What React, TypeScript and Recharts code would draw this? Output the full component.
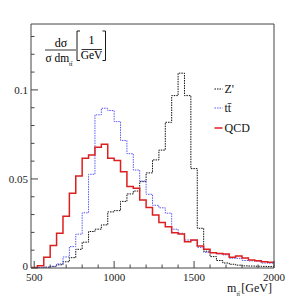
import React from "react";
import { ComposedChart, Line, XAxis, YAxis } from "recharts";

// Histogram bin lower edges in GeV (40 GeV bins), last entry closes the final bin
const BIN_EDGES = [
  480, 520, 560, 600, 640, 680, 720, 760, 800, 840, 880, 920, 960, 1000, 1040,
  1080, 1120, 1160, 1200, 1240, 1280, 1320, 1360, 1400, 1440, 1480, 1520, 1560,
  1600, 1640, 1680, 1720, 1760, 1800, 1840, 1880, 1920, 1960, 2000,
];

// Normalised dσ/dm per bin
const ZPRIME = [
  0.0001, 0.0002, 0.0004, 0.0008, 0.0018, 0.0035, 0.0058, 0.0105, 0.0145,
  0.0205, 0.0218, 0.0242, 0.0315, 0.0322, 0.0374, 0.0416, 0.0432, 0.0485,
  0.0534, 0.0607, 0.0662, 0.0818, 0.0968, 0.1094, 0.0968, 0.0558, 0.0223,
  0.0094, 0.0064, 0.0042, 0.0028, 0.0021, 0.0016, 0.0012, 0.0011, 0.001,
  0.0009, 0.0008,
];
const TTBAR = [
  0.0002, 0.0003, 0.0005, 0.001, 0.0023, 0.0062, 0.012, 0.019, 0.031, 0.0526,
  0.086, 0.0897, 0.0884, 0.0822, 0.0716, 0.0642, 0.055, 0.0488, 0.0414,
  0.0352, 0.0338, 0.0308, 0.0218, 0.0195, 0.0157, 0.0156, 0.0116, 0.0088,
  0.0087, 0.008, 0.0074, 0.0055, 0.0054, 0.0042, 0.004, 0.0038, 0.0028,
  0.0027,
];
const QCD = [
  0.0003, 0.0012, 0.006, 0.0127, 0.0195, 0.029, 0.042, 0.0517, 0.0616, 0.0635,
  0.0678, 0.0695, 0.0616, 0.0603, 0.054, 0.0457, 0.0448, 0.0382, 0.0339,
  0.0298, 0.0256, 0.0232, 0.0198, 0.0191, 0.0148, 0.0157, 0.0124, 0.0105,
  0.0086, 0.0082, 0.0079, 0.006, 0.0067, 0.0056, 0.0045, 0.0041, 0.0035,
  0.0032,
];

// Axis ticks (minor + major) and which of them get a label
const X_TICKS = [
  500, 600, 700, 800, 900, 1000, 1100, 1200, 1300, 1400, 1500, 1600, 1700,
  1800, 1900, 2000,
];
const X_MAJOR = [500, 1000, 1500, 2000];
const Y_TICKS = [
  0, 0.01, 0.02, 0.03, 0.04, 0.05, 0.06, 0.07, 0.08, 0.09, 0.1, 0.11, 0.12,
  0.13,
];
const Y_MAJOR = [0, 0.05, 0.1];

const FONT = "Liberation Serif, Times New Roman, DejaVu Serif, serif";
const FRAME = "#444";

const SERIES = [
  { key: "zprime", values: ZPRIME, color: "#111", dash: "1.5 1", width: 1 },
  { key: "ttbar", values: TTBAR, color: "#5a5af2", dash: "1.5 1", width: 1 },
  { key: "qcd", values: QCD, color: "#dc1f1f", dash: undefined, width: 1.5 },
];

// one row per bin edge; the closing edge repeats the last bin so stepAfter ends at 2000
const data = BIN_EDGES.map((m, i) => {
  const j = Math.min(i, ZPRIME.length - 1);
  return { m, zprime: ZPRIME[j], ttbar: TTBAR[j], qcd: QCD[j] };
});

const isMajor = (list: number[], v: number) =>
  list.some((t) => Math.abs(t - v) < 1e-9);

const labelStyle = { fontFamily: FONT, fontSize: 11, fill: "#222" };

function XTick(props: any) {
  const { x, y, payload } = props;
  const major = isMajor(X_MAJOR, payload.value);
  return (
    <g>
      <line x1={x} x2={x} y1={y} y2={y - (major ? 7 : 3.5)} stroke={FRAME} />
      {major && (
        <text x={x} y={y + 12.5} textAnchor="middle" style={labelStyle}>
          {payload.value}
        </text>
      )}
    </g>
  );
}

function YTick(props: any) {
  const { x, y, payload } = props;
  const major = isMajor(Y_MAJOR, payload.value);
  // the zero label sits a little higher so it clears the "500" below it
  const dy = payload.value === 0 ? 2 : 4;
  return (
    <g>
      <line x1={x} x2={x + (major ? 7 : 3.5)} y1={y} y2={y} stroke={FRAME} />
      {major && (
        <text x={x - 3} y={y + dy} textAnchor="end" style={labelStyle}>
          {String(payload.value)}
        </text>
      )}
    </g>
  );
}

const LEGEND = [
  { label: "Z'", series: SERIES[0], y: 89 },
  { label: "tt\u0304", series: SERIES[1], y: 108 },
  { label: "QCD", series: SERIES[2], y: 128 },
];

export default function App() {
  return (
    <div
      style={{
        position: "absolute",
        left: 0,
        top: 0,
        width: 304,
        height: 305,
        background: "#fff",
      }}
    >
      <ComposedChart
        width={304}
        height={305}
        data={data}
        margin={{ top: 0, right: 0, bottom: 0, left: 0 }}
      >
        <XAxis
          dataKey="m"
          type="number"
          domain={[480, 2000]}
          ticks={X_TICKS}
          interval={0}
          allowDataOverflow
          height={37}
          tickSize={0}
          tickMargin={0}
          tick={<XTick />}
          axisLine={{ stroke: FRAME }}
        />
        <XAxis
          xAxisId="top"
          orientation="top"
          type="number"
          domain={[480, 2000]}
          height={24}
          tick={false}
          tickLine={false}
          axisLine={{ stroke: FRAME }}
        />
        <YAxis
          type="number"
          domain={[0, 0.137]}
          ticks={Y_TICKS}
          interval={0}
          allowDataOverflow
          width={31}
          tickSize={0}
          tickMargin={0}
          tick={<YTick />}
          axisLine={{ stroke: FRAME }}
        />
        <YAxis
          yAxisId="right"
          orientation="right"
          type="number"
          domain={[0, 0.137]}
          width={30}
          tick={false}
          tickLine={false}
          axisLine={{ stroke: FRAME }}
        />
        {SERIES.map((s) => (
          <Line
            key={s.key}
            dataKey={s.key}
            type="stepAfter"
            stroke={s.color}
            strokeWidth={s.width}
            strokeDasharray={s.dash}
            dot={false}
            activeDot={false}
            isAnimationActive={false}
          />
        ))}
      </ComposedChart>

      {/* ROOT-style annotations: y title, legend, x title */}
      <svg
        width={304}
        height={305}
        style={{
          position: "absolute",
          left: 0,
          top: 0,
          pointerEvents: "none",
          fontFamily: FONT,
        }}
      >
        <text x={61} y={46.5} textAnchor="middle" fontSize={12}>
          dσ
        </text>
        <line x1={45} x2={76} y1={50} y2={50} stroke="#000" strokeWidth={0.8} />
        <text x={45.5} y={61.5} fontSize={11.5}>
          σ dm
        </text>
        <text x={69} y={66} fontSize={6.5}>
          tt̄
        </text>
        <path d="M80 31 H77 V60.5 H80" fill="none" stroke="#000" strokeWidth={0.9} />
        <text x={91.5} y={44} textAnchor="middle" fontSize={12}>
          1
        </text>
        <line x1={81.5} x2={102} y1={49.5} y2={49.5} stroke="#000" strokeWidth={0.8} />
        <text x={91.5} y={59} textAnchor="middle" fontSize={11.5}>
          GeV
        </text>
        <path d="M102.5 31 H105.5 V60.5 H102.5" fill="none" stroke="#000" strokeWidth={0.9} />

        {LEGEND.map((l) => (
          <g key={l.label}>
            <line
              x1={214.5}
              x2={222.5}
              y1={l.y}
              y2={l.y}
              stroke={l.series.color}
              strokeWidth={l.series.width}
              strokeDasharray={l.series.dash}
            />
            <text x={224.5} y={l.y + 4} fontSize={12} fill="#111">
              {l.label}
            </text>
          </g>
        ))}

        <text x={227} y={292} fontSize={12} fill="#111">
          m
        </text>
        <text x={236.5} y={295.5} fontSize={6.5} fill="#111">
          tt̄
        </text>
        <text x={272} y={292} textAnchor="end" fontSize={12} fill="#111">
          [GeV]
        </text>
      </svg>
    </div>
  );
}
